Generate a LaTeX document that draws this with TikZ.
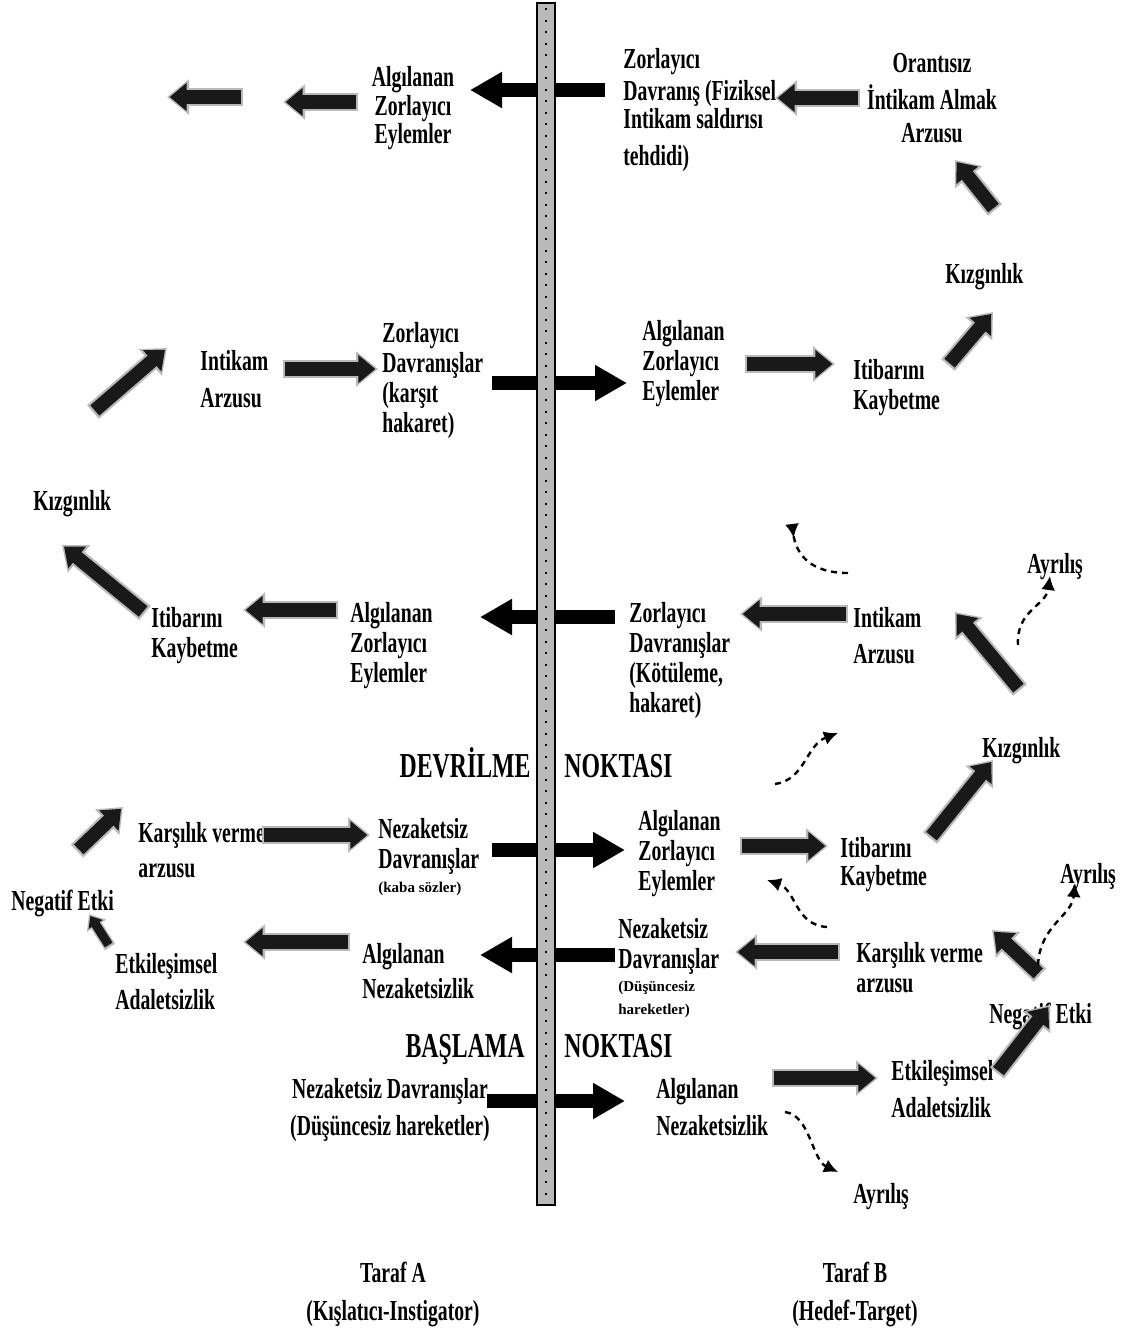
\documentclass[tikz,border=0pt]{standalone}
\usepackage{fontspec}
\setmainfont{Liberation Serif}[FakeStretch=0.68]
\newfontfamily\smallfont{Liberation Serif}
\usetikzlibrary{arrows.meta}

% shaded block arrow: grey rim, dark body
\newcommand\shadarrow[2]{%
  \draw[shadout] #1 -- #2;
  \draw[shadin] #1 -- #2;}

\begin{document}
\begin{tikzpicture}[x=0.5pt,y=-0.5pt,
  txt/.style={align=left,anchor=north west,inner sep=0pt,font=\bfseries\fontsize{14.5}{15}\selectfont},
  ctxt/.style={txt,align=center,anchor=north},
  small/.style={align=left,anchor=north west,inner sep=0pt,font=\smallfont\bfseries\fontsize{7.5}{11.5}\selectfont},
  big/.style={inner sep=0pt,font=\bfseries\fontsize{17.5}{17.5}\selectfont},
  crossarrow/.style={line width=7pt,-{Triangle[length=16pt,width=17pt]}},
  shadout/.style={line width=9pt,gray!55,-{Triangle[length=11pt,width=17pt]}},
  shadin/.style={line width=6.8pt,black!90,-{Triangle[length=8.5pt,width=13.5pt]},shorten >=1.3pt,shorten <=1.2pt},
  dasharrow/.style={line width=1.2pt,dash pattern=on 3pt off 2.5pt,-{Latex[length=7pt,width=7pt]}}]
\useasboundingbox (0,0) rectangle (1137,1330);

% arrows through the wall
\draw[crossarrow] (605,90) -- (470,90);
\draw[crossarrow] (492,383) -- (627,383);
\draw[crossarrow] (615,617) -- (480,617);
\draw[crossarrow] (492,850) -- (625,850);
\draw[crossarrow] (615,955) -- (480,955);
\draw[crossarrow] (487,1101) -- (625,1101);

% the wall
\fill[gray!55] (537,3) rectangle (555,1205);
\draw[line width=1.2pt] (537,3) rectangle (555,1205);
\draw[line width=1pt,dash pattern=on 1pt off 4.75pt] (546,8) -- (546,1200);

% side A
\node[ctxt] (perA1) at (413,66) {Algılanan\\[-0.75pt]Zorlayıcı\\[-0.75pt]Eylemler};
\node[txt] (behA2) at (382,322) {Zorlayıcı\\Davranışlar\\(karşıt\\hakaret)};
\node[txt] (revA2) at (200,350) {Intikam\\[3.5pt]Arzusu};
\node[txt] (angA3) at (33,490) {Kızgınlık};
\node[txt] (faceA3) at (151,607) {Itibarını\\Kaybetme};
\node[txt] (perA3) at (350,602) {Algılanan\\Zorlayıcı\\Eylemler};
\node[big,anchor=base east] (tipA) at (531,777) {DEVRİLME};
\node[txt] (retA4) at (138,822) {Karşılık verme\\[2.5pt]arzusu};
\node[txt] (rudeA4) at (378,818) {Nezaketsiz\\Davranışlar};
\node[small] (rudeA4s) at (378,882) {(kaba sözler)};
\node[txt] (negA5) at (11,890) {Negatif Etki};
\node[txt] (injA5) at (115,953) {Etkileşimsel\\[3pt]Adaletsizlik};
\node[txt] (perA5) at (362,943) {Algılanan\\[2.5pt]Nezaketsizlik};
\node[big,anchor=base east] (startA) at (525,1057) {BAŞLAMA};
\node[ctxt] (rudeA6) at (390,1078) {Nezaketsiz Davranışlar\\[3.5pt](Düşüncesiz hareketler)};
\node[ctxt] (sideA) at (393,1262) {Taraf A\\[4pt](Kışlatıcı-Instigator)};

% side B
\node[txt] (behB1) at (623,48) {Zorlayıcı\\[1pt]Davranış (Fiziksel\\[-1pt]Intikam saldırısı\\[3.5pt]tehdidi)};
\node[ctxt] (revB1) at (932,53) {Orantısız\\[3.5pt]İntikam Almak\\[1.5pt]Arzusu};
\node[txt] (angB1) at (945,263) {Kızgınlık};
\node[txt] (perB2) at (642,320) {Algılanan\\Zorlayıcı\\Eylemler};
\node[txt] (faceB2) at (853,359) {Itibarını\\Kaybetme};
\node[txt] (behB3) at (629,602) {Zorlayıcı\\Davranışlar\\(Kötüleme,\\hakaret)};
\node[txt] (revB3) at (853,607) {Intikam\\[3pt]Arzusu};
\node[txt] (exitB3) at (1027,553) {Ayrılış};
\node[txt] (angB3) at (982,737) {Kızgınlık};
\node[big,anchor=base west] (tipB) at (564,777) {NOKTASI};
\node[txt] (perB4) at (638,810) {Algılanan\\Zorlayıcı\\Eylemler};
\node[txt] (faceB4) at (840,837) {Itibarını\\[-1pt]Kaybetme};
\node[txt] (exitB4) at (1060,863) {Ayrılış};
\node[txt] (rudeB5) at (618,918) {Nezaketsiz\\Davranışlar};
\node[small] (rudeB5s) at (618,981) {(Düşüncesiz\\hareketler)};
\node[txt] (retB5) at (856,942) {Karşılık verme\\arzusu};
\node[txt] (negB5) at (989,1003) {Negatif Etki};
\node[big,anchor=base west] (startB) at (564,1057) {NOKTASI};
\node[txt] (perB6) at (656,1078) {Algılanan\\[3.5pt]Nezaketsizlik};
\node[txt] (injB6) at (891,1060) {Etkileşimsel\\[3.5pt]Adaletsizlik};
\node[txt] (exitB6) at (853,1183) {Ayrılış};
\node[ctxt] (sideB) at (855,1262) {Taraf B\\[4pt](Hedef-Target)};

% shaded arrows
\shadarrow{(243,97)}{(167,97)}
\shadarrow{(358,102)}{(283,102)}
\shadarrow{(860,98)}{(775,98)}
\shadarrow{(995,210)}{(955,160)}
\shadarrow{(948,365)}{(993,312)}
\shadarrow{(745,364)}{(835,364)}
\shadarrow{(283,369)}{(378,369)}
\shadarrow{(93,412)}{(167,348)}
\shadarrow{(145,613)}{(62,545)}
\shadarrow{(338,610)}{(243,610)}
\shadarrow{(848,614)}{(740,614)}
\shadarrow{(1020,690)}{(955,612)}
\shadarrow{(740,846)}{(828,846)}
\shadarrow{(930,838)}{(993,760)}
\shadarrow{(262,835)}{(370,835)}
\shadarrow{(77,851)}{(123,807)}
\shadarrow{(350,942)}{(243,942)}
\shadarrow{(840,952)}{(735,952)}
\shadarrow{(1040,975)}{(992,930)}
\shadarrow{(997,1073)}{(1050,1005)}
\shadarrow{(772,1078)}{(878,1078)}
\draw[line width=6pt,gray!55,-{Triangle[length=7pt,width=11pt]}] (110,947) -- (89,914);
\draw[line width=4.5pt,black!90,-{Triangle[length=5pt,width=8pt]},shorten >=1.2pt,shorten <=1.2pt] (110,947) -- (89,914);

% dashed side paths
\draw[dasharrow,-{Latex[reversed,length=7pt,width=7pt]}] (848,573) .. controls (812,573) and (796,556) .. (792,524);
\draw[dasharrow] (775,784) .. controls (805,780) and (806,745) .. (838,733);
\draw[dasharrow] (1018,645) .. controls (1016,610) and (1046,606) .. (1050,576);
\draw[dasharrow] (827,927) .. controls (795,925) and (796,890) .. (767,880);
\draw[dasharrow] (1038,965) .. controls (1040,925) and (1072,916) .. (1075,883);
\draw[dasharrow] (785,1112) .. controls (810,1115) and (812,1160) .. (838,1172);
\end{tikzpicture}
\end{document}
